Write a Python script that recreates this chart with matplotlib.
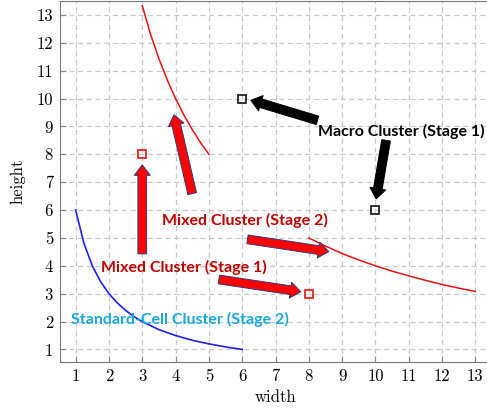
import numpy as np
import matplotlib
matplotlib.use("Agg")
import matplotlib.pyplot as plt
from matplotlib.patches import FancyArrowPatch, ArrowStyle

# curves
blue_x = [1, 1.25, 1.5, 1.75, 2, 2.25, 2.5, 2.75, 3, 3.5, 4, 4.5, 5, 5.5, 6]
blue_y = [6, 4.8, 4, 3.43, 3, 2.67, 2.4, 2.18, 2, 1.71, 1.5, 1.33, 1.2, 1.09, 1]
red_top_x = [3, 3.25, 3.5, 3.75, 4, 4.25, 4.5, 4.75, 5]
red_top_y = [13.33, 12.3, 11.43, 10.67, 10, 9.41, 8.89, 8.42, 8]
red_right_x = [8, 8.5, 9, 9.5, 10, 10.5, 11, 11.5, 12, 12.5, 13]
red_right_y = [5, 4.71, 4.44, 4.21, 4, 3.81, 3.64, 3.48, 3.33, 3.2, 3.08]

# cluster squares
black_sq_x = [6, 10]
black_sq_y = [10, 6]
red_sq_x = [3, 8]
red_sq_y = [8, 3]

ticks = list(range(1, 14))

# annotation labels: (text, x, y, colour)
labels = [
    ("Macro Cluster (Stage 1)", 10.77, 8.82, "black"),
    ("Mixed Cluster (Stage 2)", 6.09, 5.61, "#C00000"),
    ("Mixed Cluster (Stage 1)", 4.24, 3.95, "#C00000"),
    ("Standard-Cell Cluster (Stage 2)", 4.12, 2.08, "#1AA7E0"),
]

# fat arrows: (tail, tip)
red_arrows = [
    ((3.0, 4.43), (3.0, 7.62)),
    ((4.5, 6.59), (3.95, 9.42)),
    ((6.16, 4.95), (8.6, 4.51)),
    ((5.3, 3.51), (7.76, 3.07)),
]
black_arrows = [
    ((8.26, 9.22), (6.26, 9.94)),
    ((10.32, 8.5), (10.02, 6.4)),
]

fig = plt.figure(figsize=(4.87, 4.12), dpi=100)
ax = fig.add_axes([60 / 487, 50 / 412, 432 / 487, 361 / 412])

ax.plot(blue_x, blue_y, color="#2020ee", lw=1.2)
ax.plot(red_top_x, red_top_y, color="#ee1111", lw=1.1)
ax.plot(red_right_x, red_right_y, color="#ee1111", lw=1.1)

ax.plot(black_sq_x, black_sq_y, "s", ms=5.5, mfc="none", mec="#222222", mew=1.3)
ax.plot(red_sq_x, red_sq_y, "s", ms=5.5, mfc="none", mec="#ee2222", mew=1.3)

style = ArrowStyle.Simple(head_length=7.5, head_width=11.5, tail_width=6.3)
for tail, tip in red_arrows:
    ax.add_patch(FancyArrowPatch(tail, tip, arrowstyle=style, mutation_scale=1,
                                 shrinkA=0, shrinkB=0, fc="#ff0000",
                                 ec="#2f3a7a", lw=0.7, zorder=4))
for tail, tip in black_arrows:
    ax.add_patch(FancyArrowPatch(tail, tip, arrowstyle=style, mutation_scale=1,
                                 shrinkA=0, shrinkB=0, fc="black",
                                 ec="black", lw=0.7, zorder=4))

for txt, x, y, c in labels:
    ax.text(x, y, txt, color=c, fontsize=11.5, fontweight="bold",
            family=["Lato", "DejaVu Sans"], ha="center", va="center", zorder=5)

ax.set_xlim(0.53, 13.5)
ax.set_ylim(0.55, 13.5)
ax.set_xticks(ticks)
ax.set_yticks(ticks)
ax.set_xticklabels([str(t) for t in ticks], family="cmr10", fontsize=12)
ax.set_yticklabels([str(t) for t in ticks], family="cmr10", fontsize=12)
ax.tick_params(direction="in", length=4, color="#888888", pad=5)
ax.grid(True, ls=(0, (4, 3)), color="#c8c8c8", lw=0.9)
ax.set_axisbelow(True)
for s in ax.spines.values():
    s.set_color("#777777")
ax.spines["right"].set_visible(False)
ax.set_xlabel("width", family="cmr10", fontsize=12, labelpad=4)
ax.set_ylabel("height", family="cmr10", fontsize=12, labelpad=8)

fig.savefig("out.png", dpi=100)
